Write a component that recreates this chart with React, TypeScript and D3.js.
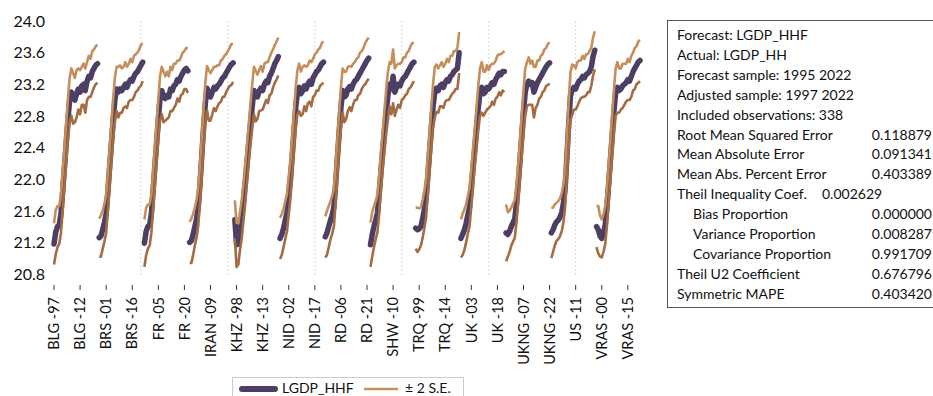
import * as d3 from "d3";

// cross-sections, 26 years each (1997-2022)
const sections = ["BLG", "BRS", "FR", "IRAN", "KHZ", "NID", "RD", "SHW", "TRQ", "UK", "UKNG", "US", "VRAS"];

// LGDP_HHF forecast
const fBLG = [21.18, 21.33, 21.40, 21.42, 21.56, 21.85, 22.15, 22.45, 22.75, 23.00, 23.10, 23.02, 23.00, 23.08, 23.14, 23.10, 23.18, 23.20, 23.12, 23.24, 23.30, 23.28, 23.36, 23.40, 23.44, 23.46];
const fBRS = [21.26, 21.28, 21.36, 21.45, 21.56, 21.85, 22.15, 22.45, 22.75, 23.00, 23.14, 23.10, 23.14, 23.12, 23.16, 23.20, 23.16, 23.22, 23.26, 23.24, 23.30, 23.34, 23.36, 23.40, 23.44, 23.48];
const fFR = [21.19, 21.34, 21.40, 21.42, 21.56, 21.86, 22.16, 22.46, 22.76, 23.02, 23.12, 23.04, 23.02, 23.06, 23.04, 23.14, 23.12, 23.18, 23.20, 23.26, 23.24, 23.30, 23.34, 23.38, 23.40, 23.37];
const fIRAN = [21.20, 21.22, 21.30, 21.40, 21.50, 21.66, 21.95, 22.30, 22.65, 22.95, 23.15, 23.06, 23.04, 23.10, 23.16, 23.14, 23.18, 23.20, 23.24, 23.28, 23.30, 23.34, 23.38, 23.42, 23.45, 23.47];
const fKHZ = [21.49, 21.17, 21.18, 21.35, 21.50, 21.72, 21.95, 22.20, 22.45, 22.70, 22.92, 23.12, 23.05, 23.04, 23.12, 23.15, 23.12, 23.20, 23.24, 23.22, 23.30, 23.34, 23.40, 23.46, 23.50, 23.55];
const fNID = [21.25, 21.30, 21.38, 21.48, 21.58, 21.80, 22.00, 22.30, 22.60, 22.90, 23.10, 23.16, 23.08, 23.12, 23.18, 23.14, 23.20, 23.24, 23.20, 23.28, 23.32, 23.36, 23.38, 23.42, 23.46, 23.48];
const fRD = [21.27, 21.32, 21.40, 21.48, 21.55, 21.65, 21.95, 22.28, 22.60, 22.90, 23.12, 23.04, 23.06, 23.14, 23.17, 23.14, 23.20, 23.24, 23.26, 23.30, 23.34, 23.38, 23.42, 23.46, 23.50, 23.53];
const fSHW = [21.17, 21.30, 21.40, 21.48, 21.57, 21.80, 22.10, 22.35, 22.60, 22.85, 23.05, 23.20, 23.14, 23.30, 23.10, 23.16, 23.20, 23.18, 23.24, 23.28, 23.30, 23.34, 23.38, 23.42, 23.46, 23.48];
const fTRQ = [21.38, 21.36, 21.37, 21.40, 21.50, 21.62, 21.76, 22.05, 22.35, 22.65, 22.92, 23.10, 23.15, 23.12, 23.18, 23.20, 23.16, 23.22, 23.26, 23.24, 23.30, 23.32, 23.36, 23.38, 23.40, 23.60];
const fUK = [21.25, 21.30, 21.36, 21.44, 21.55, 21.65, 21.90, 22.15, 22.40, 22.65, 22.90, 23.10, 23.16, 23.08, 23.10, 23.16, 23.14, 23.18, 23.22, 23.20, 23.26, 23.30, 23.34, 23.32, 23.36, 23.36];
const fUKNG = [21.32, 21.30, 21.34, 21.40, 21.45, 21.50, 21.70, 21.95, 22.25, 22.55, 22.85, 23.10, 23.20, 23.24, 23.20, 23.22, 23.10, 23.16, 23.22, 23.26, 23.30, 23.34, 23.38, 23.42, 23.45, 23.47];
const fUS = [21.32, 21.36, 21.42, 21.46, 21.48, 21.52, 21.58, 21.70, 21.90, 22.30, 22.70, 23.05, 23.13, 23.16, 23.14, 23.20, 23.24, 23.26, 23.30, 23.28, 23.32, 23.34, 23.36, 23.42, 23.55, 23.63];
const fVRAS = [21.40, 21.36, 21.28, 21.25, 21.32, 21.42, 21.65, 21.95, 22.25, 22.55, 22.85, 23.10, 23.16, 23.12, 23.14, 23.18, 23.20, 23.22, 23.26, 23.24, 23.30, 23.36, 23.40, 23.44, 23.48, 23.50];

// forecast standard errors
const seBLG = [0.13, 0.14, 0.13, 0.12, 0.12, 0.12, 0.12, 0.12, 0.13, 0.14, 0.15, 0.16, 0.14, 0.15, 0.13, 0.14, 0.12, 0.13, 0.14, 0.12, 0.13, 0.12, 0.13, 0.12, 0.12, 0.12];
const seBRS = [0.12, 0.13, 0.12, 0.12, 0.12, 0.12, 0.12, 0.12, 0.13, 0.14, 0.14, 0.16, 0.15, 0.14, 0.13, 0.14, 0.13, 0.12, 0.13, 0.12, 0.13, 0.12, 0.12, 0.12, 0.13, 0.12];
const seFR = [0.15, 0.15, 0.14, 0.13, 0.12, 0.12, 0.12, 0.12, 0.13, 0.14, 0.15, 0.16, 0.14, 0.15, 0.13, 0.14, 0.13, 0.14, 0.13, 0.12, 0.13, 0.12, 0.13, 0.12, 0.13, 0.14];
const seIRAN = [0.13, 0.14, 0.13, 0.12, 0.12, 0.12, 0.12, 0.12, 0.12, 0.13, 0.14, 0.16, 0.15, 0.14, 0.13, 0.14, 0.13, 0.12, 0.13, 0.12, 0.13, 0.12, 0.12, 0.12, 0.13, 0.12];
const seKHZ = [0.12, 0.14, 0.13, 0.12, 0.12, 0.12, 0.12, 0.12, 0.12, 0.13, 0.14, 0.15, 0.16, 0.14, 0.13, 0.14, 0.12, 0.13, 0.12, 0.13, 0.12, 0.13, 0.12, 0.12, 0.12, 0.12];
const seNID = [0.13, 0.13, 0.12, 0.12, 0.12, 0.12, 0.12, 0.12, 0.12, 0.13, 0.14, 0.15, 0.14, 0.15, 0.13, 0.14, 0.12, 0.13, 0.14, 0.12, 0.13, 0.12, 0.13, 0.12, 0.13, 0.13];
const seRD = [0.13, 0.14, 0.13, 0.12, 0.12, 0.12, 0.12, 0.12, 0.12, 0.13, 0.14, 0.16, 0.15, 0.14, 0.13, 0.14, 0.13, 0.12, 0.13, 0.12, 0.13, 0.12, 0.12, 0.13, 0.13, 0.13];
const seSHW = [0.14, 0.14, 0.13, 0.12, 0.12, 0.12, 0.12, 0.12, 0.13, 0.14, 0.15, 0.14, 0.16, 0.17, 0.15, 0.14, 0.13, 0.14, 0.12, 0.13, 0.12, 0.13, 0.12, 0.13, 0.13, 0.12];
const seTRQ = [0.13, 0.14, 0.13, 0.12, 0.12, 0.12, 0.12, 0.12, 0.12, 0.13, 0.14, 0.16, 0.15, 0.14, 0.13, 0.14, 0.13, 0.12, 0.13, 0.12, 0.13, 0.12, 0.13, 0.12, 0.13, 0.13];
const seUK = [0.12, 0.13, 0.13, 0.12, 0.12, 0.12, 0.12, 0.12, 0.12, 0.13, 0.14, 0.15, 0.16, 0.14, 0.13, 0.14, 0.12, 0.13, 0.12, 0.13, 0.12, 0.13, 0.12, 0.13, 0.12, 0.13];
const seUKNG = [0.18, 0.14, 0.13, 0.12, 0.12, 0.12, 0.12, 0.12, 0.12, 0.13, 0.14, 0.15, 0.14, 0.15, 0.13, 0.14, 0.16, 0.13, 0.14, 0.12, 0.13, 0.12, 0.13, 0.12, 0.13, 0.13];
const seUS = [0.16, 0.14, 0.13, 0.12, 0.12, 0.12, 0.12, 0.12, 0.12, 0.13, 0.14, 0.15, 0.16, 0.14, 0.13, 0.14, 0.13, 0.12, 0.13, 0.12, 0.13, 0.12, 0.13, 0.12, 0.12, 0.12];
const seVRAS = [0.13, 0.15, 0.13, 0.12, 0.12, 0.12, 0.12, 0.12, 0.12, 0.13, 0.14, 0.15, 0.16, 0.14, 0.13, 0.14, 0.13, 0.12, 0.13, 0.12, 0.13, 0.12, 0.13, 0.12, 0.13, 0.13];

const forecasts = [fBLG, fBRS, fFR, fIRAN, fKHZ, fNID, fRD, fSHW, fTRQ, fUK, fUKNG, fUS, fVRAS];
const stdErrs = [seBLG, seBRS, seFR, seIRAN, seKHZ, seNID, seRD, seSHW, seTRQ, seUK, seUKNG, seUS, seVRAS];

const xTickLabels = [
  "BLG -97", "BLG -12", "BRS -01", "BRS -16", "FR -05", "FR -20", "IRAN -09", "KHZ -98",
  "KHZ -13", "NID -02", "NID -17", "RD -06", "RD -21", "SHW -10", "TRQ -99", "TRQ -14",
  "UK -03", "UK -18", "UKNG -07", "UKNG -22", "US -11", "VRAS -00", "VRAS -15",
];
const yTicks = [20.8, 21.2, 21.6, 22.0, 22.4, 22.8, 23.2, 23.6, 24.0];

const statLabels = [
  "Forecast: LGDP_HHF", "Actual: LGDP_HH", "Forecast sample: 1995 2022", "Adjusted sample: 1997 2022",
  "Included observations: 338", "Root Mean Squared Error", "Mean Absolute Error", "Mean Abs. Percent Error",
  "Theil Inequality Coef.", "Bias Proportion", "Variance Proportion", "Covariance Proportion",
  "Theil U2 Coefficient", "Symmetric MAPE",
];
const statValues = ["", "", "", "", "", "0.118879", "0.091341", "0.403389", "0.002629", "0.000000", "0.008287", "0.991709", "0.676796", "0.403420"];

const W = 933;
const H = 396;
const font = "Lato, 'Open Sans', sans-serif";
const purple = "#4d3e64";
const brownHi = "#c58f5c";
const brownLo = "#a36c42";

const App = () => {
  const perSection = sections.length ? forecasts[0].length : 0;
  const nObs = sections.length * perSection;

  const x = d3.scaleLinear().domain([0, nObs - 1]).range([54, 640]);
  const y = d3.scaleLinear().domain([20.8, 24.0]).range([274, 21]);

  const line = d3
    .line<[number, number]>()
    .x(d => x(d[0]))
    .y(d => y(d[1]));

  const grid = d3.range(50, nObs, 50);

  return (
    <svg width={W} height={H} style={{ position: "absolute", left: 0, top: 0, background: "#fff" }} fontFamily={font}>
      {/* vertical grid */}
      {grid.map(g => (
        <line key={g} x1={x(g)} x2={x(g)} y1={21} y2={277} stroke="#d8d8d8" strokeWidth={1} strokeDasharray="2,2" />
      ))}

      {/* y axis labels */}
      {yTicks.map(t => (
        <text key={t} x={45} y={y(t)} dy="0.36em" textAnchor="end" fontSize={16} fill="#111">
          {d3.format(".1f")(t)}
        </text>
      ))}

      {/* x axis ticks + labels */}
      {xTickLabels.map((lab, k) => {
        const px = x(k * 15);
        return (
          <g key={lab}>
            <line x1={px} x2={px} y1={285} y2={290} stroke="#333" strokeWidth={1} />
            <text transform={`translate(${px},297) rotate(-90)`} dy="0.36em" textAnchor="end" fontSize={14.5} fill="#111">
              {lab}
            </text>
          </g>
        );
      })}

      {/* forecast lines */}
      {forecasts.map((f, k) => (
        <path
          key={"f" + k}
          d={line(f.map((v, i) => [k * perSection + i, v] as [number, number])) ?? ""}
          fill="none"
          stroke={purple}
          strokeWidth={5.5}
          strokeLinejoin="round"
          strokeLinecap="round"
        />
      ))}

      {/* +/- 2 S.E. bands */}
      {forecasts.map((f, k) => (
        <g key={"b" + k} fill="none" strokeWidth={2.6} strokeLinejoin="round">
          <path
            d={line(f.map((v, i) => [k * perSection + i, v + 2 * stdErrs[k][i]] as [number, number])) ?? ""}
            stroke={brownHi}
          />
          <path
            d={line(f.map((v, i) => [k * perSection + i, v - 2 * stdErrs[k][i]] as [number, number])) ?? ""}
            stroke={brownLo}
          />
        </g>
      ))}

      {/* stats box */}
      <rect x={667.5} y={20.5} width={280} height={287} fill="#fff" stroke="#555" strokeWidth={1} />
      {statLabels.map((lab, i) => {
        const cy = 35 + i * 19.9;
        const indent = i >= 9 && i <= 11;
        return (
          <g key={lab} fontSize={14} fill="#111">
            <text x={indent ? 693 : 677} y={cy} dy="0.36em">{lab}</text>
            {statValues[i] && (
              <text x={i === 8 ? 822 : 932} y={cy} dy="0.36em" textAnchor={i === 8 ? "start" : "end"}>
                {statValues[i]}
              </text>
            )}
          </g>
        );
      })}

      {/* legend */}
      <rect x={232.5} y={377.5} width={231} height={30} fill="#fff" stroke="#ccc" strokeWidth={1} />
      <line x1={242} x2={275} y1={389} y2={389} stroke={purple} strokeWidth={6} strokeLinecap="round" />
      <text x={282} y={388} dy="0.36em" fontSize={14} fill="#111">LGDP_HHF</text>
      <line x1={364} x2={398} y1={389} y2={389} stroke={brownHi} strokeWidth={2.6} />
      <text x={405} y={388} dy="0.36em" fontSize={14} fill="#111">± 2 S.E.</text>
    </svg>
  );
};

export default App;
